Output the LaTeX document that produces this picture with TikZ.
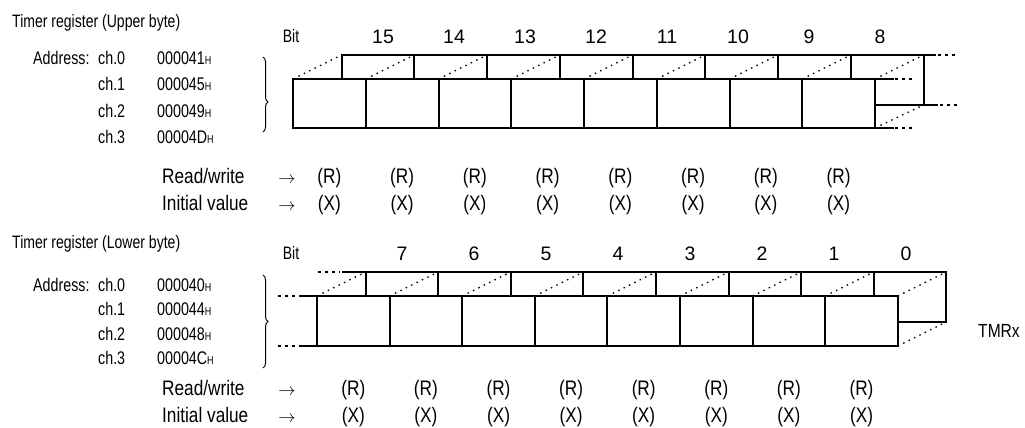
\documentclass[tikz,border=0pt]{standalone}
\usepackage{fontspec}
\setmainfont{Liberation Sans}
\newfontfamily\nf{Liberation Sans}[FakeStretch=0.82]
\newfontfamily\nn{Liberation Sans}[FakeStretch=0.78]
\usetikzlibrary{decorations.pathreplacing}
\newcommand\hexH{{\nn\fontsize{11.5}{11.5}\selectfont H}}
\begin{document}
\begin{tikzpicture}[x=1pt,y=-1pt,
  regline/.style={line width=2pt, line cap=rect},
  dotline/.style={line width=1.3pt, dash pattern=on 1.5pt off 4.5pt},
  contline/.style={line width=1.3pt, dash pattern=on 2.5pt off 4.5pt},
  ttl/.style={inner sep=0pt, anchor=base west, font=\nn\fontsize{18}{20}\selectfont},
  addr/.style={inner sep=0pt, anchor=base west, font=\nn\fontsize{18.3}{20}\selectfont},
  bitlbl/.style={inner sep=0pt, anchor=base, font=\nn\fontsize{18}{20}\selectfont},
  bitno/.style={inner sep=0pt, anchor=base, font=\fontsize{19.5}{22}\selectfont},
  rwl/.style={inner sep=0pt, anchor=base west, font=\nf\fontsize{21}{24}\selectfont},
  rwv/.style={inner sep=0pt, anchor=base, font=\nf\fontsize{21}{24}\selectfont},
  arr/.style={inner sep=0pt, anchor=base, font=\fontsize{17}{20}\selectfont},
  brc/.style={line width=1pt, decorate, decoration={brace, amplitude=5pt, aspect=#1}},
  tmr/.style={inner sep=0pt, anchor=base, font=\nf\fontsize{19}{22}\selectfont},
]
\useasboundingbox (0,0) rectangle (1025,428);

% ================= Upper byte =================
\node[ttl] (utitle) at (12,28) {Timer register (Upper byte)};
\node[bitlbl] (ubit) at (291,43) {Bit};
\foreach \b [count=\k from 0] in {15,14,...,8}
  \node[bitno] (ub\b) at ({383+71*\k},44) {\b};
\node[addr] (uaddr) at (33,64.3) {Address:};
\foreach \c/\h [count=\k from 0] in {0/000041,1/000045,2/000049,3/00004D} {
  \node[addr] (uch\c) at (98,{64.3+26.5*\k}) {ch.\c};
  \node[addr] (uhx\c) at (157,{64.3+26.5*\k}) {\h\hexH};
}
\draw[brc=0.6] (263,57) -- (263,132);

% register drawing
\foreach \i in {0,...,8} {
  \draw[regline] ({293+72.75*\i},79) -- ({293+72.75*\i},128);
  \draw[dotline] ({293+72.75*\i},79) -- ({341.5+72.75*\i},55);
}
\foreach \i in {0,...,7}
  \draw[regline] ({341.5+72.75*\i},55) -- ({341.5+72.75*\i},79);
\draw[regline] (293,79) -- (893,79);
\draw[contline] (895,79) -- (915,79);
\draw[regline] (293,128) -- (893,128);
\draw[contline] (895,128) -- (915,128);
\draw[regline] (341.5,55) -- (935,55);
\draw[contline] (938,55) -- (958,55);
\draw[regline] (923.5,55) -- (923.5,105);
\draw[regline] (875,105) -- (937,105);
\draw[contline] (940,105) -- (958,105);
\draw[dotline] (875,128) -- (923.5,105);

\node[rwl] (urw) at (162,183.6) {Read/write};
\node[arr] (urwa) at (287,183.6) {$\rightarrow$};
\node[rwl] (uiv) at (162,210.6) {Initial value};
\node[arr] (uiva) at (287,210.6) {$\rightarrow$};
\foreach \k in {0,...,7} {
  \node[rwv] (ur\k) at ({329.4+72.75*\k},183.6) {(R)};
  \node[rwv] (ux\k) at ({329.4+72.75*\k},210.6) {(X)};
}

% ================= Lower byte =================
\node[ttl] (ltitle) at (12,248) {Timer register (Lower byte)};
\node[bitlbl] (lbit) at (291,259) {Bit};
\foreach \b [count=\k from 0] in {7,6,...,0}
  \node[bitno] (lb\b) at ({402+72*\k},260) {\b};
\node[addr] (laddr) at (33,291.3) {Address:};
\foreach \c/\h [count=\k from 0] in {0/000040,1/000044,2/000048,3/00004C} {
  \node[addr] (lch\c) at (98,{291.3+24.5*\k}) {ch.\c};
  \node[addr] (lhx\c) at (157,{291.3+24.5*\k}) {\h\hexH};
}
\draw[brc=0.5] (263,275) -- (263,368);

\foreach \i in {0,...,8} {
  \draw[regline] ({317+72.6*\i},296) -- ({317+72.6*\i},346);
  \draw[dotline] ({317+72.6*\i},296) -- ({365.5+72.6*\i},272);
}
\foreach \i in {0,...,7}
  \draw[regline] ({365.5+72.6*\i},272) -- ({365.5+72.6*\i},296);
\draw[contline] (278,296) -- (297,296);
\draw[regline] (300,296) -- (897.8,296);
\draw[contline] (278,346) -- (297,346);
\draw[regline] (300,346) -- (897.8,346);
\draw[contline] (318,272) -- (340,272);
\draw[regline] (343,272) -- (946.3,272);
\draw[regline] (946.3,272) -- (946.3,322);
\draw[regline] (897.8,322) -- (946.3,322);
\draw[dotline] (897.8,346) -- (946.3,322);

\node[tmr] (tmrx) at (999,337.8) {TMRx};

\node[rwl] (lrw) at (162,395.6) {Read/write};
\node[arr] (lrwa) at (287,395.6) {$\rightarrow$};
\node[rwl] (liv) at (162,422.3) {Initial value};
\node[arr] (liva) at (287,422.3) {$\rightarrow$};
\foreach \k in {0,...,7} {
  \node[rwv] (lr\k) at ({353.3+72.6*\k},395.6) {(R)};
  \node[rwv] (lx\k) at ({353.3+72.6*\k},422.3) {(X)};
}
\end{tikzpicture}
\end{document}
